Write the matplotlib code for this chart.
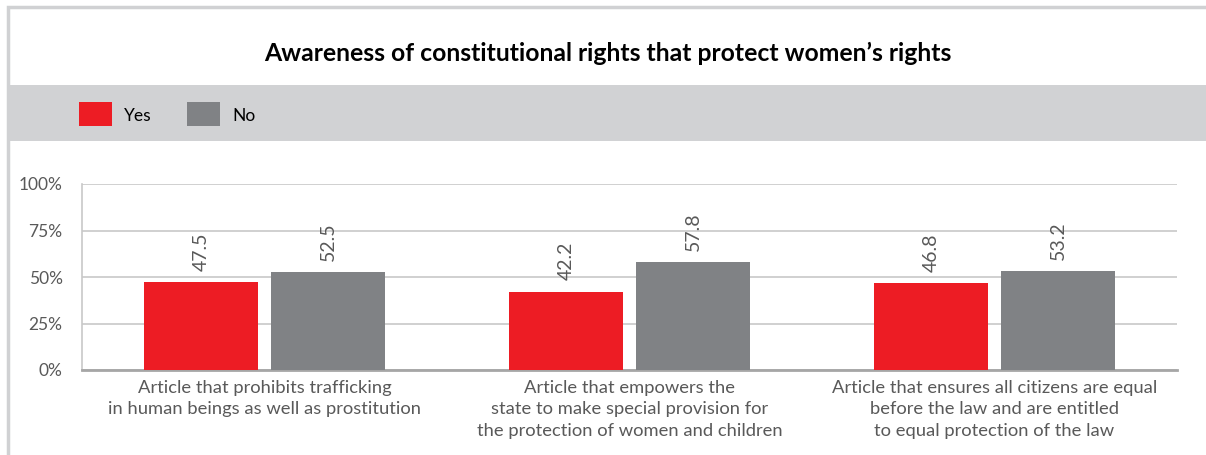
import numpy as np
import matplotlib.pyplot as plt
from matplotlib.patches import Rectangle
from matplotlib.lines import Line2D

plt.rcParams['font.family'] = ['Lato', 'DejaVu Sans']

title = 'Awareness of constitutional rights that protect women\u2019s rights'
categories = [
    'Article that prohibits trafficking\nin human beings as well as prostitution',
    'Article that empowers the\nstate to make special provision for\nthe protection of women and children',
    'Article that ensures all citizens are equal\nbefore the law and are entitled\nto equal protection of the law',
]
yes_values = [47.5, 42.2, 46.8]
no_values = [52.5, 57.8, 53.2]
series_names = ['Yes', 'No']
y_ticks = [0, 25, 50, 75, 100]

RED = '#ed1c24'
GREY = '#808285'
TEXT = '#595959'

W, H = 1206, 455
fig = plt.figure(figsize=(W / 100, H / 100), dpi=100)


def px(x0, y0, x1, y1):
    # pixel box (top-left origin) -> figure fraction rect
    return [x0 / W, 1 - y1 / H, (x1 - x0) / W, (y1 - y0) / H]


# outer frame (left + top edges) and legend band, behind the axes
fig.add_artist(Line2D([8 / W, 8 / W, 1.0], [0, 1 - 7 / H, 1 - 7 / H], transform=fig.transFigure,
                      color='#d0d1d3', lw=2.5, solid_joinstyle='miter', zorder=-2))
fig.patches.append(Rectangle((9.5 / W, 1 - 141 / H), 1.0, 56 / H, transform=fig.transFigure,
                             facecolor='#d1d2d4', edgecolor='none', zorder=-1))

fig.text(608 / W, 1 - 53 / H, title, ha='center', va='center', fontsize=17.8,
         fontweight='bold', color='black')

# legend
for i, (name, col) in enumerate(zip(series_names, [RED, GREY])):
    x0 = 79 + i * 108
    fig.patches.append(Rectangle((x0 / W, 1 - 126 / H), 33 / W, 24 / H, transform=fig.transFigure,
                                 facecolor=col, edgecolor='none', zorder=1))
    fig.text((x0 + 45) / W, 1 - 116 / H, name, ha='left', va='center', fontsize=12.5, color='black')

ax = fig.add_axes(px(82, 184, 1177, 370))
ax.set_zorder(5)
x = np.arange(len(categories))
bw = 0.315
off = 0.174
b1 = ax.bar(x - off, yes_values, bw, color=RED, zorder=3)
b2 = ax.bar(x + off, no_values, bw, color=GREY, zorder=3)

for bars, vals in [(b1, yes_values), (b2, no_values)]:
    for b, v in zip(bars, vals):
        ax.annotate(f'{v:.1f}', (b.get_x() + b.get_width() / 2, v), xytext=(0, 8),
                    textcoords='offset points', rotation=90, ha='center', va='bottom',
                    fontsize=14, color=TEXT)

ax.set_xlim(-0.5, 2.5)
ax.set_ylim(0, 100)
ax.set_yticks(y_ticks)
ax.set_yticklabels([f'{t}%' for t in y_ticks])
ax.set_xticks(x)
ax.set_xticklabels(categories, fontsize=13.2, color=TEXT, linespacing=1.42)
ax.tick_params(axis='y', length=0, pad=14, labelsize=12.5, labelcolor=TEXT)
ax.tick_params(axis='x', length=0, pad=7)
ax.yaxis.grid(True, color='#c8c8c8', lw=1.2, zorder=0)
for s in ['right', 'top']:
    ax.spines[s].set_visible(False)
ax.spines['left'].set_color('#c8c8c8')
ax.spines['left'].set_linewidth(1.2)
ax.spines['bottom'].set_color('#a6a6a6')
ax.spines['bottom'].set_linewidth(2)
ax.set_facecolor('none')

fig.savefig('out.png', dpi=100)
